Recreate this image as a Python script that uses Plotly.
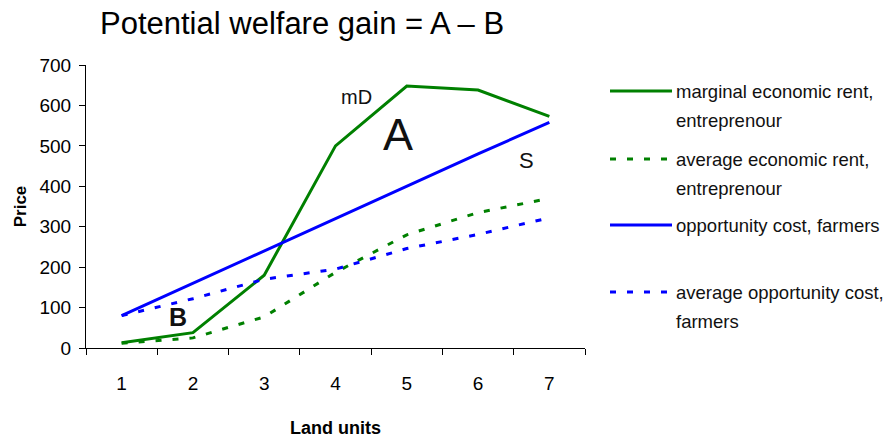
import plotly.graph_objects as go

# Land units on the horizontal axis
land_units = ["1", "2", "3", "4", "5", "6", "7"]

# Price series
marginal_rent = [13, 38, 180, 500, 648, 638, 573]
average_rent = [12, 25, 77, 187, 280, 335, 370]
opportunity_cost = [80, 160, 240, 320, 400, 480, 558]
average_opportunity_cost = [80, 122, 170, 195, 246, 281, 322]

series_names = [
    ["marginal economic rent,", "entreprenour"],
    ["average economic rent,", "entreprenour"],
    ["opportunity cost, farmers"],
    ["average opportunity cost,", "farmers"],
]

GREEN = "#008000"
BLUE = "#0000FF"
DOTS = "6px,11px"
FONT = "Liberation Sans, Arial, sans-serif"

W, H = 886, 438
L, R, T, B = 86, 585, 65, 348


def px(x):
    return (x - L) / (R - L)


def py(y):
    return (B - y) / (B - T)


fig = go.Figure()
styles = [
    (marginal_rent, GREEN, "solid"),
    (average_rent, GREEN, DOTS),
    (opportunity_cost, BLUE, "solid"),
    (average_opportunity_cost, BLUE, DOTS),
]
for (vals, color, dash), name in zip(styles, series_names):
    fig.add_trace(go.Scatter(
        x=land_units, y=vals, mode="lines", name=" ".join(name),
        line=dict(color=color, width=3, dash=dash), showlegend=False,
    ))

# Hand-built legend on the right
legend_rows = [91, 159, 225, 292]
shapes = []
annotations = []
for (vals, color, dash), name, yrow in zip(styles, series_names, legend_rows):
    shapes.append(dict(
        type="line", xref="paper", yref="paper",
        x0=px(610), x1=px(672), y0=py(yrow), y1=py(yrow),
        line=dict(color=color, width=3, dash=dash),
    ))
    for i, line_text in enumerate(name):
        annotations.append(dict(
            text=line_text, xref="paper", yref="paper",
            x=px(674), y=py(yrow + 29 * i), xanchor="left", yanchor="middle",
            showarrow=False, font=dict(family=FONT, size=18.5, color="#111"),
        ))

# Labels inside the plot
annotations += [
    dict(text="mD", x=3.29, y=622, font=dict(family=FONT, size=20, color="#111")),
    dict(text="A", x=3.87, y=527, font=dict(family=FONT, size=45, color="#111")),
    dict(text="S", x=5.68, y=465, font=dict(family=FONT, size=22, color="#111")),
    dict(text="<b>B</b>", x=0.785, y=77, font=dict(family=FONT, size=25, color="#111")),
]
for a in annotations[-4:]:
    a.update(xref="x", yref="y", showarrow=False, xanchor="center", yanchor="middle")

annotations.append(dict(
    text="Potential welfare gain = A \u2013 B", xref="paper", yref="paper",
    x=px(98), y=py(23), xanchor="left", yanchor="middle", showarrow=False,
    font=dict(family=FONT, size=31, color="#000"),
))

fig.update_layout(
    width=W, height=H,
    margin=dict(l=L, r=W - R, t=T, b=H - B, autoexpand=False),
    paper_bgcolor="white", plot_bgcolor="white",
    font=dict(family=FONT, color="#000"),
    shapes=shapes, annotations=annotations,
)
fig.update_xaxes(
    type="category", range=[-0.5, 6.5], tickson="boundaries",
    showline=True, linecolor="#000", linewidth=1,
    ticks="outside", ticklen=6, tickcolor="#000",
    showgrid=False, zeroline=False, automargin=False,
    tickfont=dict(family=FONT, size=19, color="#000"),
    ticklabelstandoff=18,
    title=dict(text="<b>Land units</b>", font=dict(family=FONT, size=18), standoff=30),
)
fig.update_yaxes(
    range=[0, 700], dtick=100,
    showline=True, linecolor="#000", linewidth=1,
    ticks="outside", ticklen=6, tickcolor="#000",
    showgrid=False, zeroline=False, automargin=False,
    tickfont=dict(family=FONT, size=19, color="#000"),
    ticklabelstandoff=4,
    title=dict(text="<b>Price</b>", font=dict(family=FONT, size=17), standoff=8),
)

fig.write_html("out.html")
